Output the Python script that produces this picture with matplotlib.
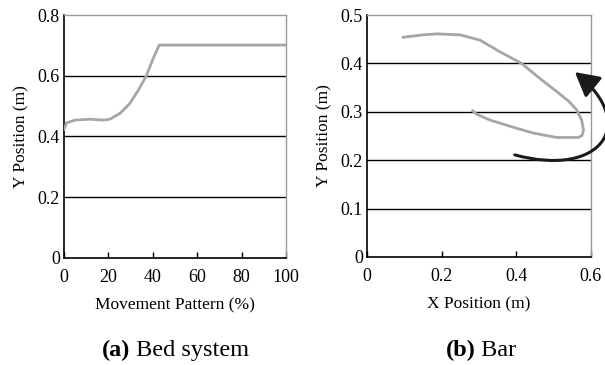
import matplotlib
matplotlib.use("Agg")
import matplotlib.pyplot as plt
from matplotlib.path import Path
from matplotlib.patches import FancyArrowPatch

plt.rcParams['font.family'] = ['Liberation Serif', 'DejaVu Serif']

# (a) bed system: y position vs movement pattern
bed_x = [0, 1.2, 5, 11.7, 17.7, 20.7, 25.2, 29.7, 33.5, 36.9, 40.2, 42.9, 60, 80, 100]
bed_y = [0.424, 0.445, 0.454, 0.457, 0.454, 0.457, 0.476, 0.509, 0.553, 0.597, 0.657, 0.701, 0.701, 0.701, 0.701]

# (b) bar: y position vs x position
bar_x = [0.097, 0.151, 0.187, 0.249, 0.303, 0.356, 0.414, 0.463, 0.508, 0.540, 0.562, 0.575, 0.580,
         0.576, 0.566, 0.508, 0.446, 0.392, 0.329, 0.294, 0.283]
bar_y = [0.454, 0.459, 0.461, 0.459, 0.448, 0.424, 0.400, 0.369, 0.342, 0.322, 0.304, 0.283, 0.262,
         0.251, 0.247, 0.247, 0.256, 0.268, 0.283, 0.295, 0.302]

# curved arrow (bezier control points, data coords of panel b)
arrow_pts = [(0.396, 0.211), (0.624, 0.163), (0.731, 0.273), (0.557, 0.382)]

line_col = '#a6a6a6'
frame_col = '#9a9a9a'

fig = plt.figure(figsize=(6.05, 3.65), dpi=100)
ax1 = fig.add_axes([0.1058, 0.2932, 0.3669, 0.6657])
ax2 = fig.add_axes([0.6066, 0.2959, 0.3702, 0.6630])


def style(ax, xticks, yticks, xlabel):
	ax.set_xticks(xticks)
	ax.set_yticks(yticks)
	ax.set_xlim(xticks[0], xticks[-1])
	ax.set_ylim(yticks[0], yticks[-1])
	ax.tick_params(axis='x', direction='in', length=4, width=1, labelsize=13, pad=8)
	ax.tick_params(axis='y', length=0, labelsize=13, pad=3)
	ax.set_xticklabels([('%g' % v) for v in xticks])
	ax.set_yticklabels([('%g' % v) for v in yticks])
	for s in ['top', 'right']:
		ax.spines[s].set_color(frame_col)
		ax.spines[s].set_linewidth(1)
	for s in ['left', 'bottom']:
		ax.spines[s].set_color('black')
		ax.spines[s].set_linewidth(1.2)
	for v in yticks[1:-1]:
		ax.axhline(v, color='black', lw=1, zorder=1)
	ax.set_xlabel(xlabel, fontsize=12.5, labelpad=8)
	ax.set_ylabel('Y Position (m)', fontsize=12.5, labelpad=6)


style(ax1, [0, 20, 40, 60, 80, 100], [0, 0.2, 0.4, 0.6, 0.8], 'Movement Pattern (%)')
style(ax2, [0, 0.2, 0.4, 0.6], [0, 0.1, 0.2, 0.3, 0.4, 0.5], 'X Position (m)')

ax1.plot(bed_x, bed_y, color=line_col, lw=2, zorder=3)
ax2.plot(bar_x, bar_y, color=line_col, lw=2, zorder=3)

path = Path(arrow_pts, [Path.MOVETO, Path.CURVE4, Path.CURVE4, Path.CURVE4])
arr = FancyArrowPatch(path=path, transform=ax2.transData,
                      arrowstyle='-|>,head_length=1.0,head_width=0.55',
                      mutation_scale=14.5, color='#1a1a1a', lw=2.2, clip_on=False, zorder=4)
ax2.add_patch(arr)

# captions with bold panel letter
fig.canvas.draw()
r = fig.canvas.get_renderer()
for cx, letter, name in [(0.29, '(a)', ' Bed system'), (0.795, '(b)', ' Bar')]:
	t1 = fig.text(0, 0.025, letter, fontsize=17.5, weight='bold', va='baseline')
	t2 = fig.text(0, 0.025, name, fontsize=17.5, va='baseline')
	w1 = t1.get_window_extent(r).width / fig.bbox.width
	w2 = t2.get_window_extent(r).width / fig.bbox.width
	x0 = cx - (w1 + w2) / 2
	t1.set_x(x0)
	t2.set_x(x0 + w1)

fig.savefig('out.png', dpi=100)
